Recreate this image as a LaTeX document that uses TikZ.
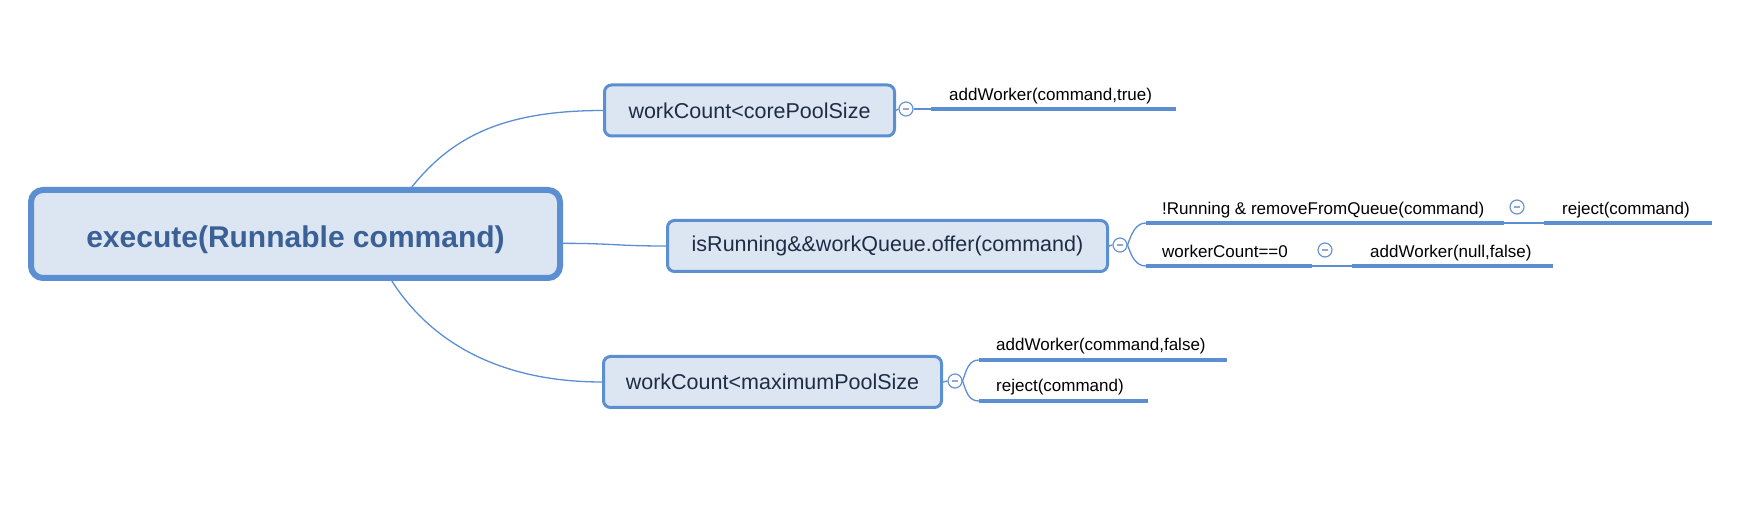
\documentclass[tikz,border=0pt]{standalone}
\usepackage{fontspec}
\setmainfont{Liberation Sans}
\definecolor{mmblue}{RGB}{91,143,209}
\definecolor{mmfill}{RGB}{220,230,242}
\definecolor{roottext}{RGB}{58,96,150}
\definecolor{boxtext}{RGB}{30,44,70}
\definecolor{togline}{RGB}{105,148,210}
\definecolor{togminus}{RGB}{150,168,198}
\begin{document}
\begin{tikzpicture}[x=1pt,y=-1pt,
  rootbox/.style={draw=mmblue, line width=6pt, fill=mmfill, rounded corners=12pt, minimum width=529pt, minimum height=88pt, inner sep=0pt, text=roottext, text height=28pt, text depth=0pt, font=\fontsize{30}{36}\selectfont\bfseries},
  topicbox/.style={draw=mmblue, line width=3pt, fill=mmfill, rounded corners=7pt, minimum height=51pt, inner sep=0pt, text=boxtext, font=\fontsize{21.5}{26}\selectfont},
  leaf/.style={anchor=base west, inner sep=0pt, text=black, font=\fontsize{17}{20}\selectfont},
  uline/.style={draw=mmblue, line width=4pt},
  conn/.style={draw=mmblue, line width=1.3pt},
  tog/.style={circle, draw=togline, fill=white, line width=1.2pt, minimum size=14pt, inner sep=0pt,
    path picture={\draw[togminus, line width=1.2pt] ([xshift=-3pt]path picture bounding box.center) -- ([xshift=3pt]path picture bounding box.center);}},
]
\useasboundingbox[fill=white] (0,0) rectangle (1749,518);

% main nodes
\node[rootbox] (root) at (295.5,234) {execute(Runnable command)};
\node[topicbox, minimum width=290pt] (b1) at (749.5,110.5) {workCount<corePoolSize};
\node[topicbox, minimum width=440pt] (b2) at (887.5,246) {isRunning\&\&workQueue.offer(command)};
\node[topicbox, minimum width=338pt] (b3) at (772.5,382) {workCount<maximumPoolSize};

% root connectors
\draw[conn] (root.22) .. controls +(40,-50) and +(-100,0) .. (b1.west);
\draw[conn] (root.-2) .. controls +(50,0) and +(-50,0) .. (b2.west);
\draw[conn] (root.-26) .. controls +(35,55) and +(-110,0) .. (b3.west);

% toggles
\node[tog] (t1) at (906,109) {};
\node[tog] (t2) at (1120,245) {};
\node[tog] (t3) at (955,381) {};
\node[tog] (t4) at (1517,207) {};
\node[tog] (t5) at (1325,250) {};

% leaves
\node[leaf] (l1) at (949,101) {addWorker(command,true)};
\coordinate (l1a) at (931,109); \coordinate (l1b) at (1176,109);
\node[leaf] (l2) at (1162,215) {!Running \& removeFromQueue(command)};
\coordinate (l2a) at (1146,223); \coordinate (l2b) at (1504,223);
\node[leaf] (l3) at (1562,215) {reject(command)};
\coordinate (l3a) at (1544,223); \coordinate (l3b) at (1712,223);
\node[leaf] (l4) at (1162,258) {workerCount==0};
\coordinate (l4a) at (1146,266); \coordinate (l4b) at (1312,266);
\node[leaf] (l5) at (1370,258) {addWorker(null,false)};
\coordinate (l5a) at (1352,266); \coordinate (l5b) at (1553,266);
\node[leaf] (l6) at (996,351) {addWorker(command,false)};
\coordinate (l6a) at (979,360); \coordinate (l6b) at (1227,360);
\node[leaf] (l7) at (996,392) {reject(command)};
\coordinate (l7a) at (979,401); \coordinate (l7b) at (1148,401);

\foreach \i in {1,...,7} {\draw[uline] (l\i a) -- (l\i b);}

% toggle connectors
\draw[conn] (b1.east) -- (t1.west);
\draw[conn] (t1.east) -- (l1a);
\draw[conn] (b2.east) -- (t2.west);
\draw[conn] (t2.east) .. controls +(4,-12) and +(-10,0) .. (l2a);
\draw[conn] (t2.east) .. controls +(4,12) and +(-10,0) .. (l4a);
\draw[conn] (l2b) -- (l3a);
\draw[conn] (l4b) -- (l5a);
\draw[conn] (b3.east) -- (t3.west);
\draw[conn] (t3.east) .. controls +(4,-12) and +(-10,0) .. (l6a);
\draw[conn] (t3.east) .. controls +(4,12) and +(-10,0) .. (l7a);
\end{tikzpicture}
\end{document}
